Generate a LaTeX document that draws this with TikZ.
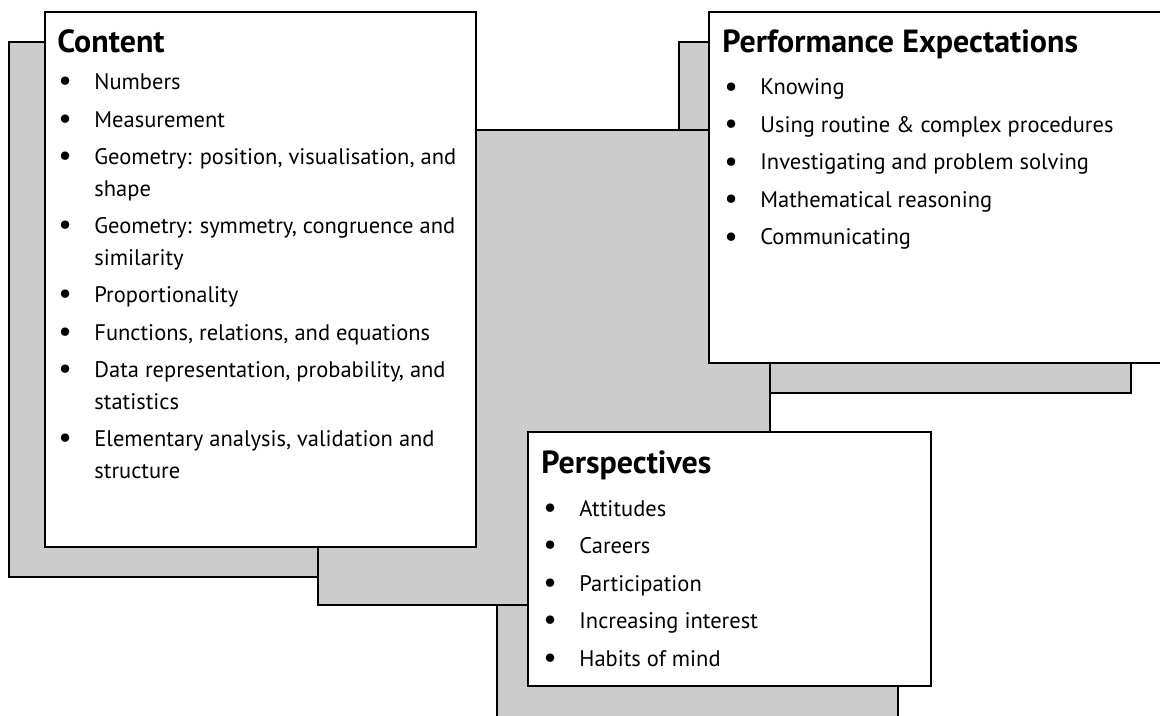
\documentclass[tikz,border=0pt]{standalone}
\usepackage{fontspec}
\setmainfont{PT Sans}
\tikzset{
  shadowbox/.style={draw, line width=1.4pt, fill=black!20},
  whitebox/.style={draw, line width=1.4pt, fill=white},
  boxtitle/.style={anchor=base west, inner sep=0pt, font=\fontsize{16}{18}\selectfont\bfseries},
  boxlist/.style={anchor=base west, inner sep=0pt, align=left, font=\fontsize{11.25}{15.75}\selectfont},
}
\newcommand{\bul}{\makebox[18pt][l]{\raisebox{-0.6pt}{\fontsize{15}{15}\selectfont\textbullet}}}
\newcommand{\cont}{\hspace*{18pt}}
\begin{document}
\begin{tikzpicture}[x=0.5pt, y=-0.5pt]
	\useasboundingbox (0,0) rectangle (1160,716);
	\clip (0,0) rectangle (1160,716);

	% shadows and the middle panel
	\draw[shadowbox] (9,42) rectangle (440,577);
	\draw[shadowbox] (679,42) rectangle (1131,393);
	\draw[shadowbox] (497,462) rectangle (898,722);
	\draw[shadowbox] (318,130) rectangle (770,605);

	% white boxes
	\draw[whitebox] (45,12) coordinate (content) rectangle (476,547);
	\draw[whitebox] (709,12) coordinate (perf) rectangle (1190,363);
	\draw[whitebox] (528,432) coordinate (persp) rectangle (931,686);

	% content (list sits on its last baseline)
	\node[boxtitle] (contenttitle) at ([shift={(12,41)}]content) {Content};
	\node[boxlist] (contentlist) at ([shift={(13,466)}]content) {%
		\bul Numbers\\[3pt]
		\bul Measurement\\[3pt]
		\bul Geometry: position, visualisation, and\\
		\cont shape\\[3pt]
		\bul Geometry: symmetry, congruence and\\
		\cont similarity\\[3pt]
		\bul Proportionality\\[3pt]
		\bul Functions, relations, and equations\\[3pt]
		\bul Data representation, probability, and\\
		\cont statistics\\[3pt]
		\bul Elementary analysis, validation and\\
		\cont structure};

	% performance expectations
	\node[boxtitle] (perftitle) at ([shift={(13,41)}]perf) {Performance Expectations};
	\node[boxlist] (perflist) at ([shift={(15,233)}]perf) {%
		\bul Knowing\\[3pt]
		\bul Using routine \& complex procedures\\[3pt]
		\bul Investigating and problem solving\\[3pt]
		\bul Mathematical reasoning\\[3pt]
		\bul Communicating};

	% perspectives
	\node[boxtitle] (persptitle) at ([shift={(13,41)}]persp) {Perspectives};
	\node[boxlist] (persplist) at ([shift={(15,234)}]persp) {%
		\bul Attitudes\\[3pt]
		\bul Careers\\[3pt]
		\bul Participation\\[3pt]
		\bul Increasing interest\\[3pt]
		\bul Habits of mind};
\end{tikzpicture}
\end{document}
